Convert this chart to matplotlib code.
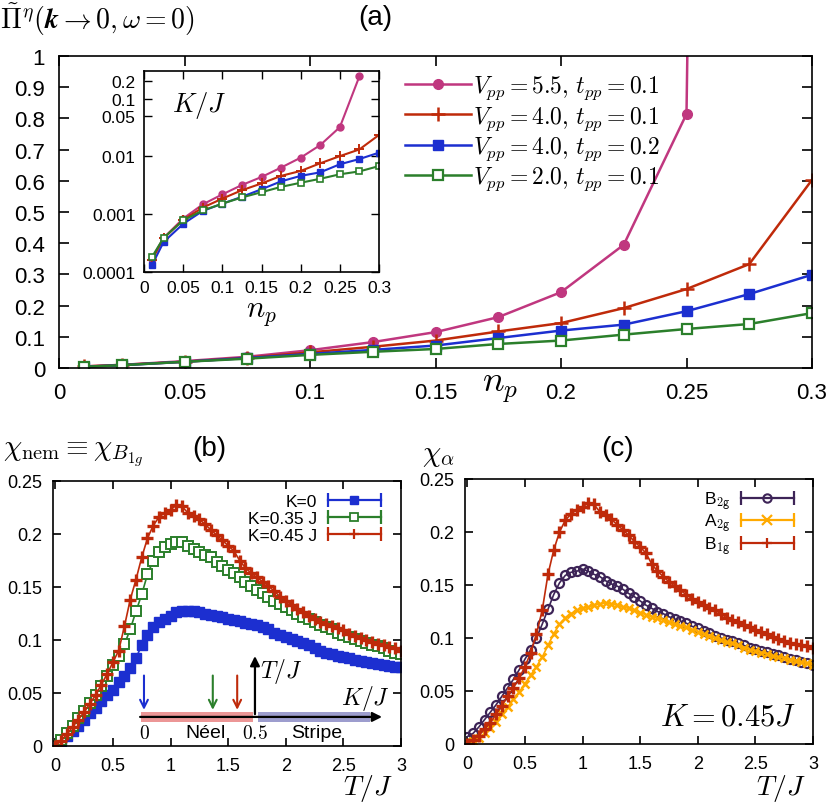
import matplotlib
matplotlib.use("Agg")
import matplotlib.pyplot as plt
from matplotlib.lines import Line2D
from matplotlib.legend_handler import HandlerLine2D
from matplotlib.ticker import FixedLocator, FuncFormatter, NullLocator

# ---- panel (a) data ----
n_p = [0.01, 0.025, 0.05, 0.075, 0.1, 0.125, 0.15, 0.175, 0.2, 0.225, 0.25, 0.275, 0.3]
# Pi(k->0, w=0); last V=5.5 point lies far above the frame
pi_v55_t01 = [0.005, 0.010, 0.022, 0.036, 0.057, 0.083, 0.115, 0.163, 0.243, 0.395, 0.814, 15.0]
pi_v40_t01 = [0.005, 0.010, 0.020, 0.033, 0.050, 0.068, 0.088, 0.117, 0.144, 0.192, 0.253, 0.333, 0.603]
pi_v40_t02 = [0.004, 0.009, 0.020, 0.032, 0.045, 0.058, 0.072, 0.096, 0.120, 0.139, 0.182, 0.237, 0.299]
pi_v20_t01 = [0.004, 0.009, 0.020, 0.030, 0.042, 0.052, 0.061, 0.077, 0.088, 0.107, 0.125, 0.141, 0.176]

# inset: K/J
kj_v55_t01 = [1.7e-4, 3.9e-4, 8.4e-4, 1.48e-3, 2.2e-3, 3.2e-3, 4.4e-3, 6.4e-3, 9.5e-3, 0.0157, 0.032, 0.243]
kj_v40_t01 = [1.6e-4, 3.8e-4, 8.0e-4, 1.3e-3, 1.86e-3, 2.6e-3, 3.4e-3, 4.6e-3, 5.6e-3, 7.6e-3, 0.0101, 0.0132, 0.0235]
kj_v40_t02 = [1.3e-4, 3.3e-4, 6.8e-4, 1.14e-3, 1.52e-3, 2.0e-3, 2.7e-3, 3.7e-3, 4.6e-3, 5.3e-3, 7.3e-3, 9.0e-3, 0.0116]
kj_v20_t01 = [1.8e-4, 3.9e-4, 7.8e-4, 1.16e-3, 1.52e-3, 1.95e-3, 2.4e-3, 2.97e-3, 3.5e-3, 4.1e-3, 4.9e-3, 5.5e-3, 6.8e-3]

labels_a = [r"$V_{pp}=5.5,\,t_{pp}=0.1$", r"$V_{pp}=4.0,\,t_{pp}=0.1$",
            r"$V_{pp}=4.0,\,t_{pp}=0.2$", r"$V_{pp}=2.0,\,t_{pp}=0.1$"]

# ---- panels (b), (c) data ----
T = [0.00, 0.05, 0.10, 0.15, 0.20, 0.25, 0.30, 0.35, 0.40, 0.45,
     0.50, 0.55, 0.60, 0.65, 0.70, 0.75, 0.80, 0.85, 0.90, 0.95,
     1.00, 1.05, 1.10, 1.15, 1.20, 1.25, 1.30, 1.35, 1.40, 1.45,
     1.50, 1.55, 1.60, 1.65, 1.70, 1.75, 1.80, 1.85, 1.90, 1.95,
     2.00, 2.05, 2.10, 2.15, 2.20, 2.25, 2.30, 2.35, 2.40, 2.45,
     2.50, 2.55, 2.60, 2.65, 2.70, 2.75, 2.80, 2.85, 2.90, 2.95,
     3.00]

chi_k0 = [0.000, 0.005, 0.009, 0.014, 0.019, 0.025, 0.031, 0.036, 0.042, 0.048,
          0.053, 0.060, 0.066, 0.074, 0.083, 0.095, 0.105, 0.112, 0.117, 0.120,
          0.123, 0.126, 0.127, 0.127, 0.127, 0.126, 0.125, 0.124, 0.123, 0.122,
          0.120, 0.119, 0.118, 0.116, 0.115, 0.114, 0.112, 0.110, 0.107, 0.105,
          0.103, 0.101, 0.099, 0.097, 0.095, 0.092, 0.090, 0.088, 0.087, 0.085,
          0.084, 0.083, 0.081, 0.080, 0.079, 0.078, 0.077, 0.076, 0.0755, 0.075,
          0.075]
chi_k035 = [0.000, 0.006, 0.012, 0.019, 0.026, 0.033, 0.041, 0.048, 0.057, 0.066,
            0.076, 0.085, 0.096, 0.110, 0.127, 0.143, 0.162, 0.175, 0.183, 0.188,
            0.191, 0.192, 0.192, 0.189, 0.186, 0.183, 0.180, 0.178, 0.174, 0.170,
            0.166, 0.163, 0.159, 0.155, 0.151, 0.147, 0.144, 0.141, 0.137, 0.134,
            0.131, 0.128, 0.125, 0.122, 0.120, 0.117, 0.114, 0.112, 0.110, 0.107,
            0.105, 0.103, 0.101, 0.099, 0.097, 0.095, 0.094, 0.092, 0.090, 0.088,
            0.087]
chi_k045 = [0.000, 0.005, 0.011, 0.018, 0.025, 0.032, 0.040, 0.048, 0.058, 0.068,
            0.079, 0.090, 0.113, 0.138, 0.157, 0.178, 0.196, 0.208, 0.216, 0.220,
            0.223, 0.227, 0.226, 0.220, 0.217, 0.214, 0.209, 0.204, 0.199, 0.194,
            0.189, 0.184, 0.175, 0.168, 0.163, 0.159, 0.155, 0.151, 0.146, 0.141,
            0.137, 0.133, 0.129, 0.126, 0.123, 0.120, 0.117, 0.115, 0.113, 0.111,
            0.109, 0.106, 0.104, 0.102, 0.100, 0.098, 0.096, 0.095, 0.093, 0.092,
            0.090]

chi_b2g = [0.007, 0.010, 0.016, 0.023, 0.030, 0.037, 0.045, 0.053, 0.061, 0.070,
           0.080, 0.089, 0.100, 0.113, 0.127, 0.141, 0.152, 0.159, 0.162, 0.163,
           0.165, 0.163, 0.160, 0.158, 0.154, 0.151, 0.149, 0.146, 0.142, 0.139,
           0.135, 0.131, 0.128, 0.125, 0.123, 0.120, 0.118, 0.116, 0.114, 0.111,
           0.109, 0.107, 0.105, 0.102, 0.100, 0.098, 0.097, 0.095, 0.093, 0.091,
           0.090, 0.088, 0.087, 0.085, 0.084, 0.082, 0.080, 0.079, 0.077, 0.076,
           0.075]
chi_a2g = [0.000, 0.003, 0.006, 0.010, 0.015, 0.021, 0.028, 0.035, 0.042, 0.049,
           0.057, 0.065, 0.073, 0.082, 0.093, 0.104, 0.113, 0.119, 0.123, 0.126,
           0.128, 0.129, 0.131, 0.132, 0.133, 0.132, 0.131, 0.129, 0.128, 0.126,
           0.124, 0.122, 0.120, 0.119, 0.117, 0.115, 0.113, 0.111, 0.110, 0.108,
           0.106, 0.104, 0.102, 0.100, 0.098, 0.096, 0.095, 0.093, 0.091, 0.089,
           0.088, 0.086, 0.085, 0.083, 0.082, 0.081, 0.079, 0.078, 0.077, 0.076,
           0.075]
chi_b1g = [0.000, 0.004, 0.008, 0.014, 0.020, 0.028, 0.036, 0.045, 0.053, 0.062,
           0.073, 0.086, 0.104, 0.126, 0.160, 0.183, 0.200, 0.211, 0.217, 0.221,
           0.224, 0.227, 0.226, 0.219, 0.216, 0.212, 0.207, 0.202, 0.197, 0.191,
           0.186, 0.180, 0.170, 0.163, 0.158, 0.153, 0.149, 0.145, 0.141, 0.137,
           0.134, 0.131, 0.128, 0.126, 0.123, 0.119, 0.117, 0.115, 0.112, 0.110,
           0.108, 0.106, 0.104, 0.101, 0.099, 0.097, 0.095, 0.094, 0.093, 0.092,
           0.091]

# schematic phase diagram inside (b), K/J units
k_neel = [-0.015, 0.49]
k_stripe = [0.515, 1.02]
k_arrows = [0.0, 0.31, 0.42]

PINK = "#c0377f"
RED = "#bf2a0a"
BLUE = "#1c2fd0"
GREEN = "#2b7f2b"
PURPLE = "#3d2457"
ORANGE = "#ffaa00"

plt.rcParams["mathtext.fontset"] = "cm"
plt.rcParams["font.family"] = ["Liberation Sans", "DejaVu Sans"]
plt.rcParams["xtick.direction"] = "in"
plt.rcParams["ytick.direction"] = "in"
plt.rcParams["xtick.top"] = True
plt.rcParams["ytick.right"] = True
plt.rcParams["axes.linewidth"] = 1.2

W, H = 830, 804
fig = plt.figure(figsize=(W / 100, H / 100), dpi=100)


def box(l, t, r, b):
    return [l / W, 1 - b / H, (r - l) / W, (b - t) / H]


fmt = FuncFormatter(lambda v, p: f"{v:g}")

# ================= (a) =================
ax = fig.add_axes(box(59, 57, 812, 369))
ax.plot(n_p[:len(pi_v55_t01)], pi_v55_t01, color=PINK, lw=1.8, marker="o", ms=7)
ax.plot(n_p, pi_v40_t01, color=RED, lw=1.8, marker="+", ms=10, mew=1.8)
ax.plot(n_p, pi_v40_t02, color=BLUE, lw=1.8, marker="s", ms=7)
ax.plot(n_p, pi_v20_t01, color=GREEN, lw=1.8, marker="s", ms=7, mfc="white", mew=1.6)
ax.set_xlim(0, 0.3)
ax.set_ylim(0, 1)
ax.xaxis.set_major_locator(FixedLocator([0, 0.05, 0.1, 0.15, 0.2, 0.25, 0.3]))
ax.yaxis.set_major_locator(FixedLocator([0, 0.1, 0.2, 0.3, 0.4, 0.5, 0.6, 0.7, 0.8, 0.9, 1.0]))
ax.xaxis.set_major_formatter(fmt)
ax.yaxis.set_major_formatter(fmt)
ax.tick_params(labelsize=16, length=7, width=1.2, pad=10)

leg_a = [Line2D([], [], color=PINK, lw=1.8, marker="o", ms=7),
         Line2D([], [], color=RED, lw=1.8, marker="+", ms=10, mew=1.8),
         Line2D([], [], color=BLUE, lw=1.8, marker="s", ms=7),
         Line2D([], [], color=GREEN, lw=1.8, marker="s", ms=7, mfc="white", mew=1.6)]
ax.legend(leg_a, labels_a, loc="upper left", bbox_to_anchor=(393 / W, 1 - 63 / H),
          bbox_transform=fig.transFigure, frameon=False, fontsize=17,
          handlelength=2.8, handletextpad=0.1, labelspacing=0.12, borderpad=0)

fig.text(0 / W, 1 - 20 / H, r"$\tilde{\Pi}^{\eta}(\boldsymbol{k}\rightarrow 0,\omega=0)$",
         fontsize=20, ha="left", va="center")
fig.text(375 / W, 1 - 18 / H, "(a)", fontsize=20, ha="center", va="center")
fig.text(500 / W, 1 - 388 / H, r"$n_p$", fontsize=26, ha="center", va="center")

# inset
ins = fig.add_axes(box(144, 72, 379, 273))
ins.plot(n_p[:len(kj_v55_t01)], kj_v55_t01, color=PINK, lw=1.5, marker="o", ms=5)
ins.plot(n_p, kj_v40_t01, color=RED, lw=1.5, marker="+", ms=7, mew=1.4)
ins.plot(n_p, kj_v40_t02, color=BLUE, lw=1.5, marker="s", ms=5)
ins.plot(n_p, kj_v20_t01, color=GREEN, lw=1.5, marker="s", ms=5, mfc="white", mew=1.2)
ins.set_yscale("log")
ins.set_xlim(0, 0.3)
ins.set_ylim(1e-4, 0.3)
ins.xaxis.set_major_locator(FixedLocator([0, 0.05, 0.1, 0.15, 0.2, 0.25, 0.3]))
ins.yaxis.set_major_locator(FixedLocator([1e-4, 1e-3, 1e-2, 0.05, 0.1, 0.2]))
ins.yaxis.set_minor_locator(NullLocator())
ins.xaxis.set_major_formatter(fmt)
ins.yaxis.set_major_formatter(fmt)
ins.tick_params(labelsize=12.5, length=6, width=1.0, pad=6)
ins.set_xlabel(r"$n_p$", fontsize=22, labelpad=1)
ins.text(0.12, 0.8, r"$K/J$", transform=ins.transAxes, fontsize=19)


# ================= (b), (c) =================
def err_handle(color, **mk):
    caps = Line2D([], [], color=color, lw=1.6, marker="|", ms=10, mew=1.6)
    dot = Line2D([], [], color=color, ls="none", **mk)
    return (caps, dot)


def err_legend(axis, handles, labels, anchor, spacing):
    hmap = {}
    for caps, dot in handles:
        hmap[caps] = HandlerLine2D(numpoints=2, marker_pad=0)
        hmap[dot] = HandlerLine2D(numpoints=1)
    axis.legend(handles, labels, handler_map=hmap, loc="upper right",
                bbox_to_anchor=anchor, bbox_transform=fig.transFigure,
                frameon=False, markerfirst=False, fontsize=12.5,
                handlelength=3.1, handletextpad=0.6, labelspacing=spacing, borderpad=0)


def style_T(axis):
    axis.set_xlim(-0.02, 3)
    axis.set_ylim(0, 0.25)
    axis.xaxis.set_major_locator(FixedLocator([0, 0.5, 1, 1.5, 2, 2.5, 3]))
    axis.yaxis.set_major_locator(FixedLocator([0, 0.05, 0.1, 0.15, 0.2, 0.25]))
    axis.xaxis.set_major_formatter(fmt)
    axis.yaxis.set_major_formatter(fmt)
    axis.tick_params(labelsize=13, length=6, width=1.2, pad=8)


axb = fig.add_axes(box(53, 482, 401, 747))
axb.plot(T, chi_k0, color=BLUE, lw=1.2, marker="s", ms=6.5)
axb.plot(T, chi_k035, color=GREEN, lw=1.2, marker="s", ms=6.5, mfc="white", mew=1.4)
axb.plot(T, chi_k045, color=RED, lw=1.2, marker="+", ms=8, mew=2.4)
style_T(axb)
err_legend(axb,
           [err_handle(BLUE, marker="s", ms=6),
            err_handle(GREEN, marker="s", ms=6, mfc="white", mew=1.3),
            err_handle(RED, marker="+", ms=7, mew=1.6)],
           ["K=0", "K=0.35 J", "K=0.45 J"], (390 / W, 1 - 486 / H), 0.12)
fig.text(3 / W, 1 - 455 / H, r"$\chi_{\rm nem}\equiv\chi_{B_{1g}}$", fontsize=21, ha="left", va="center")
fig.text(209 / W, 1 - 449 / H, "(b)", fontsize=20, ha="center", va="center")
fig.text(368 / W, 1 - 789 / H, r"$T/J$", fontsize=20, ha="center", va="center")

# phase diagram sketch
ph = fig.add_axes(box(130, 650, 395, 745))
ph.set_xlim(-0.063, 1.131)
ph.set_ylim(0, 1)
ph.axis("off")
ph.fill_between(k_neel, 0.23, 0.34, color="#e46a6a", alpha=0.7, lw=0)
ph.fill_between(k_stripe, 0.23, 0.34, color="#8585c2", alpha=0.8, lw=0)
ph.annotate("", xy=(1.085, 0.285), xytext=(-0.03, 0.285),
            arrowprops=dict(arrowstyle="-|>", color="black", lw=1.6, mutation_scale=14))
ph.annotate("", xy=(0.5, 0.955), xytext=(0.5, 0.285),
            arrowprops=dict(arrowstyle="-|>", color="black", lw=1.6, mutation_scale=14))
for k, c in zip(k_arrows, [BLUE, GREEN, RED]):
    ph.annotate("", xy=(k, 0.33), xytext=(k, 0.75),
                arrowprops=dict(arrowstyle="->", color=c, lw=1.5, mutation_scale=14))
ph.text(0.0, 0.12, r"$0$", fontsize=14, ha="center", va="center")
ph.text(0.5, 0.12, r"$0.5$", fontsize=14, ha="center", va="center")
ph.text(0.275, 0.12, "Néel", fontsize=14, ha="center", va="center")
ph.text(0.78, 0.12, "Stripe", fontsize=14, ha="center", va="center")
ph.text(0.62, 0.77, r"$T/J$", fontsize=17, ha="center", va="center")
ph.text(1.0, 0.49, r"$K/J$", fontsize=17, ha="center", va="center")

axc = fig.add_axes(box(465, 480, 813, 745))
axc.plot(T, chi_b2g, color=PURPLE, lw=1.2, marker="o", ms=6.5, mfc="none", mew=1.6)
axc.plot(T, chi_a2g, color=ORANGE, lw=1.2, marker="x", ms=6, mew=1.8)
axc.plot(T, chi_b1g, color=RED, lw=1.2, marker="+", ms=8, mew=2.4)
style_T(axc)
err_legend(axc,
           [err_handle(PURPLE, marker="o", ms=6, mfc="none", mew=1.5),
            err_handle(ORANGE, marker="x", ms=7, mew=1.6),
            err_handle(RED, marker="+", ms=7, mew=1.6)],
           [r"B$_{\mathsf{2g}}$", r"A$_{\mathsf{2g}}$", r"B$_{\mathsf{1g}}$"],
           (803 / W, 1 - 481 / H), 0.0)
axc.text(0.56, 0.105, r"$K=0.45J$", transform=axc.transAxes, fontsize=22, ha="left", va="center")
fig.text(422 / W, 1 - 455 / H, r"$\chi_{\alpha}$", fontsize=21, ha="left", va="center")
fig.text(618 / W, 1 - 449 / H, "(c)", fontsize=20, ha="center", va="center")
fig.text(781 / W, 1 - 789 / H, r"$T/J$", fontsize=20, ha="center", va="center")

fig.savefig("out.png", dpi=100)
